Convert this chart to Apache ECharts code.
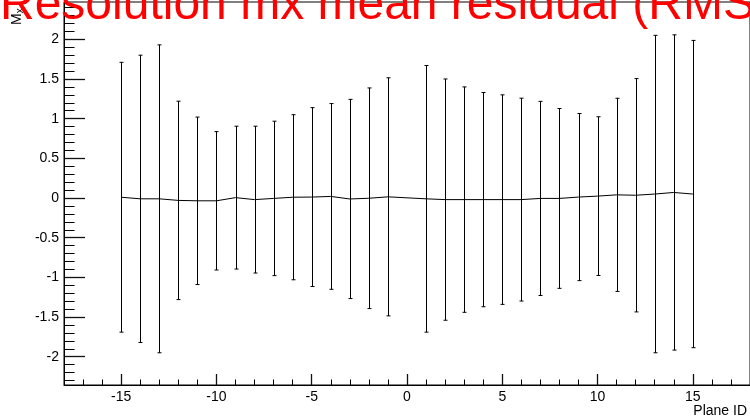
<!DOCTYPE html>
<html>
<head>
<meta charset="utf-8">
<script src="https://cdn.jsdelivr.net/npm/echarts@6/dist/echarts.min.js"></script>
<style>
  html, body { margin: 0; padding: 0; background: #fff; }
  #chart { width: 750px; height: 419px; }
</style>
</head>
<body>
<div id="chart"></div>
<script>
// plane ids (no plane 0)
const planes = [-15, -14, -13, -12, -11, -10, -9, -8, -7, -6, -5, -4, -3, -2, -1,
  1, 2, 3, 4, 5, 6, 7, 8, 9, 10, 11, 12, 13, 14, 15]
// mean residual per plane
const means = [0.01, -0.01, -0.01, -0.03, -0.035, -0.035, 0.005, -0.02, -0.005, 0.01, 0.012, 0.02, -0.012, -0.003, 0.015,
  -0.01, -0.02, -0.02, -0.02, -0.02, -0.02, -0.005, -0.005, 0.012, 0.024, 0.04, 0.035, 0.05, 0.07, 0.05]
// RMS, drawn as symmetric error bars
const rms = [1.70, 1.81, 1.94, 1.25, 1.055, 0.872, 0.90, 0.925, 0.973, 1.04, 1.127, 1.17, 1.255, 1.39, 1.50,
  1.68, 1.52, 1.42, 1.35, 1.32, 1.278, 1.223, 1.133, 1.053, 1.0, 1.217, 1.47, 2.0, 1.986, 1.936]

const yMajorTicks = [-2, -1.5, -1, -0.5, 0, 0.5, 1, 1.5, 2]
const yMinorTicks = [-2.3, -2.2, -2.1, -1.9, -1.8, -1.7, -1.6, -1.4, -1.3, -1.2, -1.1,
  -0.9, -0.8, -0.7, -0.6, -0.4, -0.3, -0.2, -0.1, 0.1, 0.2, 0.3, 0.4,
  0.6, 0.7, 0.8, 0.9, 1.1, 1.2, 1.3, 1.4, 1.6, 1.7, 1.8, 1.9, 2.1, 2.2, 2.3, 2.4]
const xMajorTicks = [-15, -10, -5, 0, 5, 10, 15]
const xMinorTicks = [-17, -16, -14, -13, -12, -11, -9, -8, -7, -6, -4, -3, -2, -1,
  1, 2, 3, 4, 6, 7, 8, 9, 11, 12, 13, 14, 16, 17]

const FONT = 'Liberation Sans, Arial, sans-serif'
const yMin = -2.356, yMax = 2.47
const xMin = -18, xMax = 18
const frame = { left: 64, top: 2, width: 689, height: 383 }

const myChart = echarts.init(document.getElementById('chart'))

// axis with inward ticks at given values, optional labels
const makeAxis = (gridIndex, min, max, pos, values, length, withLabels, tickColor, tickWidth) => ({
  type: 'value', gridIndex, min, max, position: pos,
  splitLine: { show: false },
  axisLine: { show: withLabels, onZero: false, lineStyle: { color: '#000', width: 1 } },
  axisTick: { show: true, inside: true, length, customValues: values, lineStyle: { color: tickColor, width: tickWidth } },
  axisLabel: withLabels
    ? { show: true, customValues: values, color: '#000', fontFamily: FONT, fontSize: 14, margin: 5 }
    : { show: false },
})

myChart.setOption({
  animation: false,
  // grid 0: data + minor ticks, grid 1: same frame, major ticks + labels
  grid: [
    { ...frame, show: true, borderColor: '#000', borderWidth: 1 },
    { ...frame },
  ],
  xAxis: [
    makeAxis(0, xMin, xMax, 'bottom', xMinorTicks, 5.5, false, '#000', 1),
    makeAxis(1, xMin, xMax, 'bottom', xMajorTicks, 11, true, '#111', 1.3),
  ],
  yAxis: [
    makeAxis(0, yMin, yMax, 'left', yMinorTicks, 10.5, false, '#000', 1),
    makeAxis(1, yMin, yMax, 'left', yMajorTicks, 21, true, '#111', 1.3),
  ],
  graphic: [
    {
      type: 'text', x: 0, y: 5.5, z: 100,
      style: {
        text: 'Resolution mx mean residual (RMS)', fill: '#ff0000',
        font: '48px ' + FONT, align: 'left', verticalAlign: 'middle',
      },
    },
    {
      type: 'group', x: 22, y: 25, rotation: Math.PI / 2,
      children: [
        { type: 'text', x: 0, y: -5, style: { text: 'M', fill: '#000', font: '14px ' + FONT, align: 'left', verticalAlign: 'middle' } },
        { type: 'text', x: 11.7, y: -2, style: { text: 'x', fill: '#000', font: '10px ' + FONT, align: 'left', verticalAlign: 'middle' } },
      ],
    },
    {
      type: 'text', x: 747, y: 411,
      style: { text: 'Plane ID', fill: '#000', font: '14px ' + FONT, align: 'right', verticalAlign: 'middle' },
    },
  ],
  series: [
    {
      type: 'line',
      xAxisIndex: 0, yAxisIndex: 0,
      data: planes.map((p, i) => [p, means[i]]),
      showSymbol: false,
      lineStyle: { color: '#000', width: 1 },
      z: 3,
    },
    {
      type: 'custom',
      xAxisIndex: 0, yAxisIndex: 0,
      data: planes.map((p, i) => [p, means[i] - rms[i], means[i] + rms[i]]),
      encode: { x: 0, y: [1, 2] },
      renderItem(params, api) {
        const x = api.value(0)
        const lo = api.coord([x, api.value(1)])
        const hi = api.coord([x, api.value(2)])
        const px = Math.round(lo[0]) + 0.5
        const cap = 2
        const st = { stroke: '#000', lineWidth: 1 }
        return {
          type: 'group',
          children: [
            { type: 'line', shape: { x1: px, y1: lo[1], x2: px, y2: hi[1] }, style: st },
            { type: 'line', shape: { x1: px - cap, y1: lo[1], x2: px + cap, y2: lo[1] }, style: st },
            { type: 'line', shape: { x1: px - cap, y1: hi[1], x2: px + cap, y2: hi[1] }, style: st },
          ],
        }
      },
      z: 2,
    },
  ],
})
</script>
</body>
</html>
